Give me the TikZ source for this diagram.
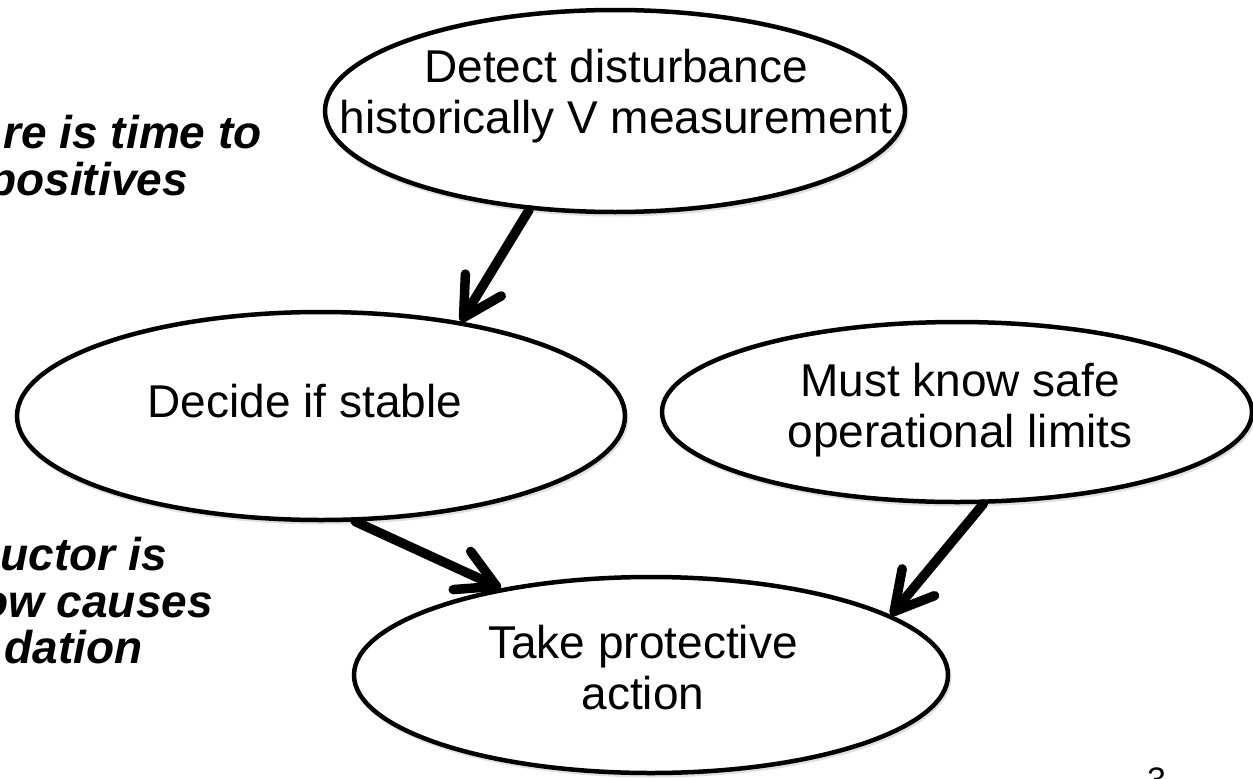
\documentclass[tikz,border=0pt]{standalone}
\usepackage{fontspec}
\setmainfont{Liberation Sans}
\usetikzlibrary{shapes.geometric,arrows.meta}

\tikzset{
  softshadow/.style={preaction={draw=black!12, line width=4pt,
      transform canvas={xshift=1.5pt, yshift=-2.5pt}}},
  bubble/.style={ellipse, draw=black, line width=4.5pt, fill=white, inner sep=0pt, softshadow},
  bubbletext/.style={align=center, inner sep=0pt, font=\fontsize{46}{51}\selectfont},
  note/.style={inner sep=0pt, anchor=base east, font=\fontsize{46}{50}\selectfont\bfseries\itshape},
  flow/.style={line width=9.5pt, line cap=round,
    -{Straight Barb[length=38pt, width=42pt, round]}},
}

\begin{document}
\begin{tikzpicture}[x=1pt, y=-1pt]
  \useasboundingbox (0,0) rectangle (1253,779);
  \clip (0,0) rectangle (1253,779);

  % side notes, running off the left edge
  \node[note] (n1) at (262,148) {re is time to};
  \node[note] (n2) at (188,195) {positives};
  \node[note] (n3) at (167,570) {uctor is};
  \node[note] (n4) at (213,617) {ow causes};
  \node[note] (n5) at (143,663) {dation};

  % the four steps
  \node[bubble, minimum width=580pt, minimum height=202pt] (det) at (615,111) {};
  \node[bubble, minimum width=608pt, minimum height=208pt] (dec) at (321,416) {};
  \node[bubble, minimum width=590pt, minimum height=180pt] (must) at (957,412) {};
  \node[bubble, minimum width=594pt, minimum height=196pt] (take) at (651,675) {};

  \node[bubbletext] (tdet) at (616,96) {Detect disturbance\\historically V measurement};
  \node[bubbletext] (tdec) at (305,401) {Decide if stable};
  \node[bubbletext] (tmust) at (960,410) {Must know safe\\operational limits};
  \node[bubbletext] (ttake) at (643,668) {Take protective\\action};

  % connectors
  \draw[flow] (det.-131) -- (dec.34);
  \draw[flow] (dec.-72) -- (take.150);
  \draw[flow] (must.-74) -- (take.14);

  % slide number
  \node[font=\fontsize{34}{40}\selectfont, anchor=base west, inner sep=0pt] (pg) at (1147,791) {3};
\end{tikzpicture}
\end{document}
